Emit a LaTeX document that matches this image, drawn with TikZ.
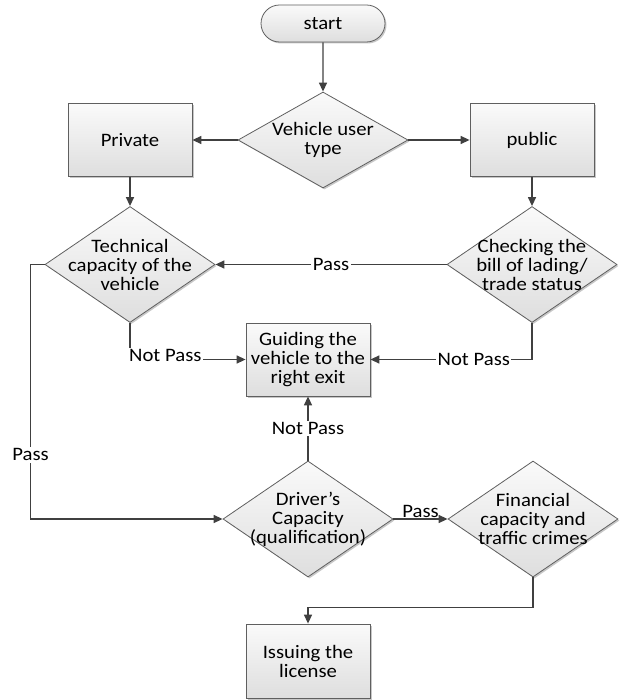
\documentclass[tikz,border=0pt]{standalone}
\usepackage{fontspec}
\setmainfont[FakeStretch=1.09]{Carlito}
\usetikzlibrary{shapes.geometric,shapes.misc,arrows.meta,shadows}
\definecolor{linec}{RGB}{64,64,64}
\definecolor{bordc}{RGB}{95,95,95}
\definecolor{topc}{RGB}{250,250,250}
\definecolor{botc}{RGB}{222,222,222}
\begin{document}
\begin{tikzpicture}[x=1pt,y=-1pt,
  font=\fontsize{19}{19}\selectfont,
  shad/.style={drop shadow={shadow xshift=1.5pt,shadow yshift=-1.5pt,fill=black,opacity=0.22}},
  box/.style={rectangle, draw=bordc, line width=0.8pt, top color=topc, bottom color=botc,
    minimum width=124pt, minimum height=73pt, inner sep=0pt, align=center, shad},
  startn/.style={rounded rectangle, draw=bordc, line width=0.8pt, top color=topc, bottom color=botc,
    minimum width=124pt, minimum height=37pt, inner sep=0pt, shad},
  dia/.style={diamond, draw=bordc, line width=0.8pt, top color=topc, bottom color=botc,
    minimum width=170pt, minimum height=116pt, inner sep=0pt, shad},
  txt/.style={align=center, inner sep=0pt},
  conn/.style={draw=linec, line width=1.4pt, -{Triangle[length=9pt,width=8pt]}},
  lab/.style={fill=white, inner sep=1.5pt}]
\useasboundingbox (0,0) rectangle (621,700);

\node[startn] (start) at (323,23.5) {start};
\node[dia, minimum height=96pt] (vut) at (323,140) {};
\node[txt] (vutt) at (vut) {Vehicle user\\type};
\node[box] (priv) at (130,140) {Private};
\node[box] (pub) at (532,140) {public};
\node[dia] (tech) at (130,264.5) {};
\node[txt] (techt) at (tech) {Technical\\capacity of the\\vehicle};
\node[dia] (check) at (532,264.5) {};
\node[txt] (checkt) at (check) {Checking the\\bill of lading/\\trade status};
\node[box] (guide) at (308,359.5) {Guiding the\\vehicle to the\\right exit};
\node[dia] (drv) at (308,519) {};
\node[txt] (drvt) at (drv) {Driver’s\\Capacity\\(qualification)};
\node[dia] (fin) at (533,519) {};
\node[txt] (fint) at (fin) {Financial\\capacity and\\traffic crimes};
\node[box, minimum height=74pt] (issue) at (308,661) {Issuing the\\license};

\draw[conn] (start) -- (vut);
\draw[conn] (vut.west) -- (priv.east);
\draw[conn] (vut.east) -- (pub.west);
\draw[conn] (priv) -- (tech);
\draw[conn] (pub) -- (check);
\draw[conn] (check.west) -- node[lab] (lp1) {Pass} (tech.east);
\draw[conn] (tech.south) |- node[lab, pos=0.5, anchor=west, xshift=-3pt, yshift=4pt] (lnp1) {Not Pass} (guide.west);
\draw[conn] (check.south) |- node[lab, pos=0.68] (lnp2) {Not Pass} (guide.east);
\draw[conn] (drv.north) -- node[lab] (lnp3) {Not Pass} (guide.south);
\draw[conn] (tech.west) -- ++(-14,0) |- node[lab, pos=0.374] (lp2) {Pass} (drv.west);
\draw[conn] (drv.east) -- node[above, inner sep=0.5pt] (lp3) {Pass} (fin.west);
\draw[conn] (fin.south) -- ++(0,30) -| (issue.north);
\end{tikzpicture}
\end{document}
